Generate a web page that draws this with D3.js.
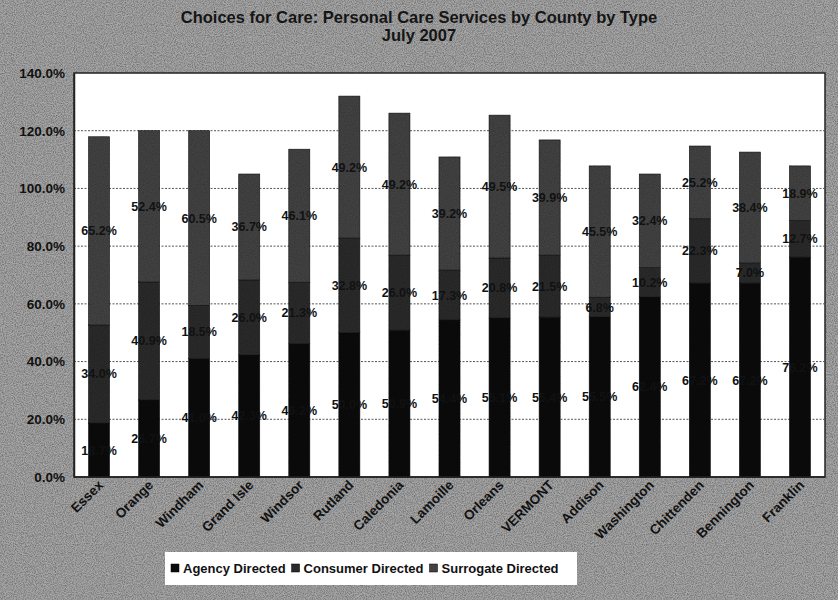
<!DOCTYPE html>
<html>
<head>
<meta charset="utf-8">
<script src="https://cdn.jsdelivr.net/npm/d3@7"></script>
<style>
  html, body { margin: 0; padding: 0; background: #a4a4a4; }
  svg { display: block; }
  text { font-family: "Liberation Sans", Arial, sans-serif; font-weight: bold; }
</style>
</head>
<body>
<svg id="chart" width="838" height="600"></svg>
<script>
const categories = ["Essex","Orange","Windham","Grand Isle","Windsor","Rutland","Caledonia","Lamoille","Orleans","VERMONT","Addison","Washington","Chittenden","Bennington","Franklin"];
const agencyDirected    = [18.7, 26.7, 41.0, 42.3, 46.2, 50.0, 50.9, 54.4, 55.1, 55.4, 55.5, 62.4, 67.2, 67.2, 76.2];
const consumerDirected  = [34.0, 40.9, 18.5, 26.0, 21.3, 32.8, 26.0, 17.3, 20.8, 21.5,  6.8, 10.2, 22.3,  7.0, 12.7];
const surrogateDirected = [65.2, 52.4, 60.5, 36.7, 46.1, 49.2, 49.2, 39.2, 49.5, 39.9, 45.5, 32.4, 25.2, 38.4, 18.9];
const seriesNames = ["Agency Directed", "Consumer Directed", "Surrogate Directed"];
const yTicks = [0, 20, 40, 60, 80, 100, 120, 140];
const titleLines = ["Choices for Care: Personal Care Services by County by Type", "July 2007"];

const colors = ["#0b0b0b", "#2a2a2a", "#424242"];

const svg = d3.select("#chart");
const W = 838, H = 600;
const plot = { left: 74, right: 825, top: 73, bottom: 477 };

// background + grain
const defs = svg.append("defs");
const f = defs.append("filter").attr("id", "grain").attr("x", 0).attr("y", 0).attr("width", "100%").attr("height", "100%");
f.append("feTurbulence").attr("type", "fractalNoise").attr("baseFrequency", 0.9).attr("numOctaves", 2).attr("seed", 3).attr("result", "n");
f.append("feColorMatrix").attr("type", "matrix")
  .attr("values", "0 0 0 0 0  0 0 0 0 0  0 0 0 0 0  0 0 0 -1.6 1.05");
svg.append("rect").attr("width", W).attr("height", H).attr("fill", "#a6a6a6");
svg.append("rect").attr("width", W).attr("height", H).attr("fill", "#000").attr("filter", "url(#grain)").attr("opacity", 0.4);

// title
svg.append("g").selectAll("text").data(titleLines).join("text")
  .attr("x", 419).attr("y", (d, i) => 23 + i * 18)
  .attr("text-anchor", "middle").attr("font-size", 16.5).attr("fill", "#151515")
  .text(d => d);

const x = d3.scaleBand().domain(categories).range([plot.left, plot.right]).paddingInner(0.58).paddingOuter(0.29);
const y = d3.scaleLinear().domain([0, 140]).range([plot.bottom, plot.top]);

// plot area
svg.append("rect").attr("x", plot.left).attr("y", plot.top)
  .attr("width", plot.right - plot.left).attr("height", plot.bottom - plot.top)
  .attr("fill", "#ffffff").attr("stroke", "#222").attr("stroke-width", 1.5);

// gridlines
svg.append("g").selectAll("line").data(yTicks.filter(t => t > 0 && t < 140)).join("line")
  .attr("x1", plot.left).attr("x2", plot.right)
  .attr("y1", d => y(d)).attr("y2", d => y(d))
  .attr("stroke", "#555").attr("stroke-width", 1).attr("stroke-dasharray", "2,1.5");

// y axis
const yAxis = d3.axisLeft(y).tickValues(yTicks).tickFormat(d => d.toFixed(1) + "%").tickSize(0).tickPadding(9);
const ga = svg.append("g").attr("transform", `translate(${plot.left},0)`).call(yAxis);
ga.select(".domain").attr("stroke", "#222").attr("stroke-width", 1.5);
ga.selectAll("text").attr("font-size", 13.5).attr("fill", "#111").attr("font-family", "Liberation Sans, Arial, sans-serif").attr("font-weight", "bold");

// stacked data
const rows = categories.map((c, i) => ({ cat: c, a: agencyDirected[i], c: consumerDirected[i], s: surrogateDirected[i] }));
const stack = d3.stack().keys(["a", "c", "s"])(rows);

const layers = svg.append("g").selectAll("g").data(stack).join("g").attr("fill", (d, i) => colors[i]);
layers.selectAll("rect").data(d => d).join("rect")
  .attr("x", d => x(d.data.cat)).attr("width", x.bandwidth())
  .attr("y", d => y(d[1])).attr("height", d => y(d[0]) - y(d[1]))
  .attr("stroke", "#111").attr("stroke-width", 0.6);

// grain on bars
svg.append("g").selectAll("rect").data(rows).join("rect")
  .attr("x", d => x(d.cat)).attr("width", x.bandwidth())
  .attr("y", d => y(d.a + d.c + d.s)).attr("height", d => y(0) - y(d.a + d.c + d.s))
  .attr("fill", "#fff").attr("filter", "url(#grain)").attr("opacity", 0.22);

// x axis line
svg.append("line").attr("x1", plot.left).attr("x2", plot.right).attr("y1", plot.bottom).attr("y2", plot.bottom)
  .attr("stroke", "#222").attr("stroke-width", 1.5);

// data labels
const labels = svg.append("g");
stack.forEach(layer => {
  labels.selectAll(null).data(layer).join("text")
    .attr("x", d => x(d.data.cat) + x.bandwidth() / 2)
    .attr("y", d => y((d[0] + d[1]) / 2) + 4.5)
    .attr("text-anchor", "middle").attr("font-size", 12.5).attr("fill", "#111")
    .text(d => (d[1] - d[0]).toFixed(1) + "%");
});

// x labels
svg.append("g").selectAll("text").data(categories).join("text")
  .attr("transform", d => `translate(${x(d) + x.bandwidth() / 2 + 5},${plot.bottom + 9}) rotate(-45)`)
  .attr("text-anchor", "end").attr("font-size", 13.5).attr("fill", "#111")
  .text(d => d);

// legend
const lg = svg.append("g").attr("transform", "translate(165,552)");
lg.append("rect").attr("width", 412).attr("height", 33).attr("fill", "#fff");
const items = lg.selectAll("g").data(seriesNames).join("g");
let lx = 6;
items.each(function(d, i) {
  const g = d3.select(this).attr("transform", `translate(${lx},0)`);
  g.append("rect").attr("x", 0).attr("y", 12).attr("width", 8).attr("height", 8).attr("fill", colors[i]).attr("stroke", "#000").attr("stroke-width", 0.5);
  const t = g.append("text").attr("x", 12).attr("y", 21).attr("font-size", 13).attr("fill", "#111").text(d);
  lx += 12 + t.node().getComputedTextLength() + 6;
});
</script>
</body>
</html>
